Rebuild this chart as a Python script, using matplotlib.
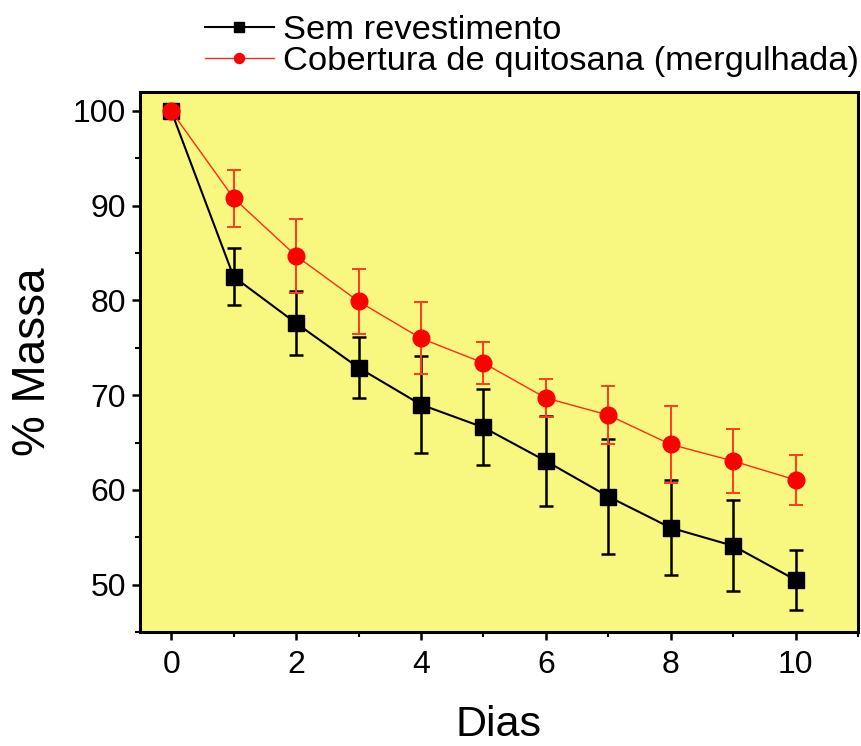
import matplotlib
matplotlib.use("Agg")
import matplotlib.pyplot as plt
from matplotlib.ticker import MultipleLocator
import numpy as np

plt.rcParams['font.family'] = ['Liberation Sans', 'DejaVu Sans']

dias = [0, 1, 2, 3, 4, 5, 6, 7, 8, 9, 10]

# Sem revestimento
massa_sem = [100.0, 82.5, 77.6, 72.9, 69.0, 66.6, 63.05, 59.3, 56.0, 54.1, 50.5]
erro_sem = [0.0, 3.0, 3.4, 3.2, 5.1, 4.0, 4.75, 6.1, 5.0, 4.8, 3.15]

# Cobertura de quitosana (mergulhada)
massa_quit = [100.0, 90.8, 84.7, 79.9, 76.0, 73.4, 69.7, 67.9, 64.8, 63.05, 61.05]
erro_quit = [0.0, 3.0, 3.9, 3.4, 3.8, 2.2, 2.0, 3.1, 4.1, 3.35, 2.6]

labels = ['Sem revestimento', 'Cobertura de quitosana (mergulhada)']

fig = plt.figure(figsize=(8.61, 7.46), dpi=100)
ax = fig.add_axes([0.1626, 0.1528, 0.8339, 0.7239])
ax.set_facecolor('#F8F880')

eb1 = ax.errorbar(dias, massa_sem, yerr=erro_sem, color='black', lw=1.5,
                  marker='s', markersize=12, ecolor='black', elinewidth=1.8,
                  capsize=5, capthick=1.8, label=labels[0], zorder=3)
eb2 = ax.errorbar(dias, massa_quit, yerr=erro_quit, color='#FF2A1A', lw=1.0,
                  marker='o', markersize=12, mfc='#FF0000', mec='#FF0000',
                  ecolor='#FF3A20', elinewidth=1.4, capsize=5, capthick=1.4,
                  label=labels[1], zorder=4)

ax.set_xlim(-0.5, 11)
ax.set_ylim(45, 102)
ax.xaxis.set_major_locator(MultipleLocator(2))
ax.xaxis.set_minor_locator(MultipleLocator(1))
ax.yaxis.set_major_locator(MultipleLocator(10))
ax.yaxis.set_minor_locator(MultipleLocator(5))

for s in ax.spines.values():
    s.set_linewidth(2.2)

ax.tick_params(which='major', direction='out', length=6, width=1.8,
               labelsize=23)
ax.tick_params(which='minor', direction='out', length=3.5, width=1.5)
ax.tick_params(axis='x', pad=7)
ax.tick_params(axis='y', pad=4)

ax.set_ylabel('% Massa', fontsize=33)
ax.set_xlabel('Dias', fontsize=31)
ax.yaxis.set_label_coords(-0.118, 0.5)
ax.xaxis.set_label_coords(0.5, -0.135)

# legend shows only line + marker, no error bars
fig.legend([eb1.lines[0], eb2.lines[0]], labels,
           loc='upper right', bbox_to_anchor=(1.019, 1.005), frameon=False,
           fontsize=24.8, handlelength=2.0, handletextpad=0.25,
           labelspacing=0.0, borderpad=0.05, markerscale=0.6)

fig.savefig('out.png', dpi=100)
